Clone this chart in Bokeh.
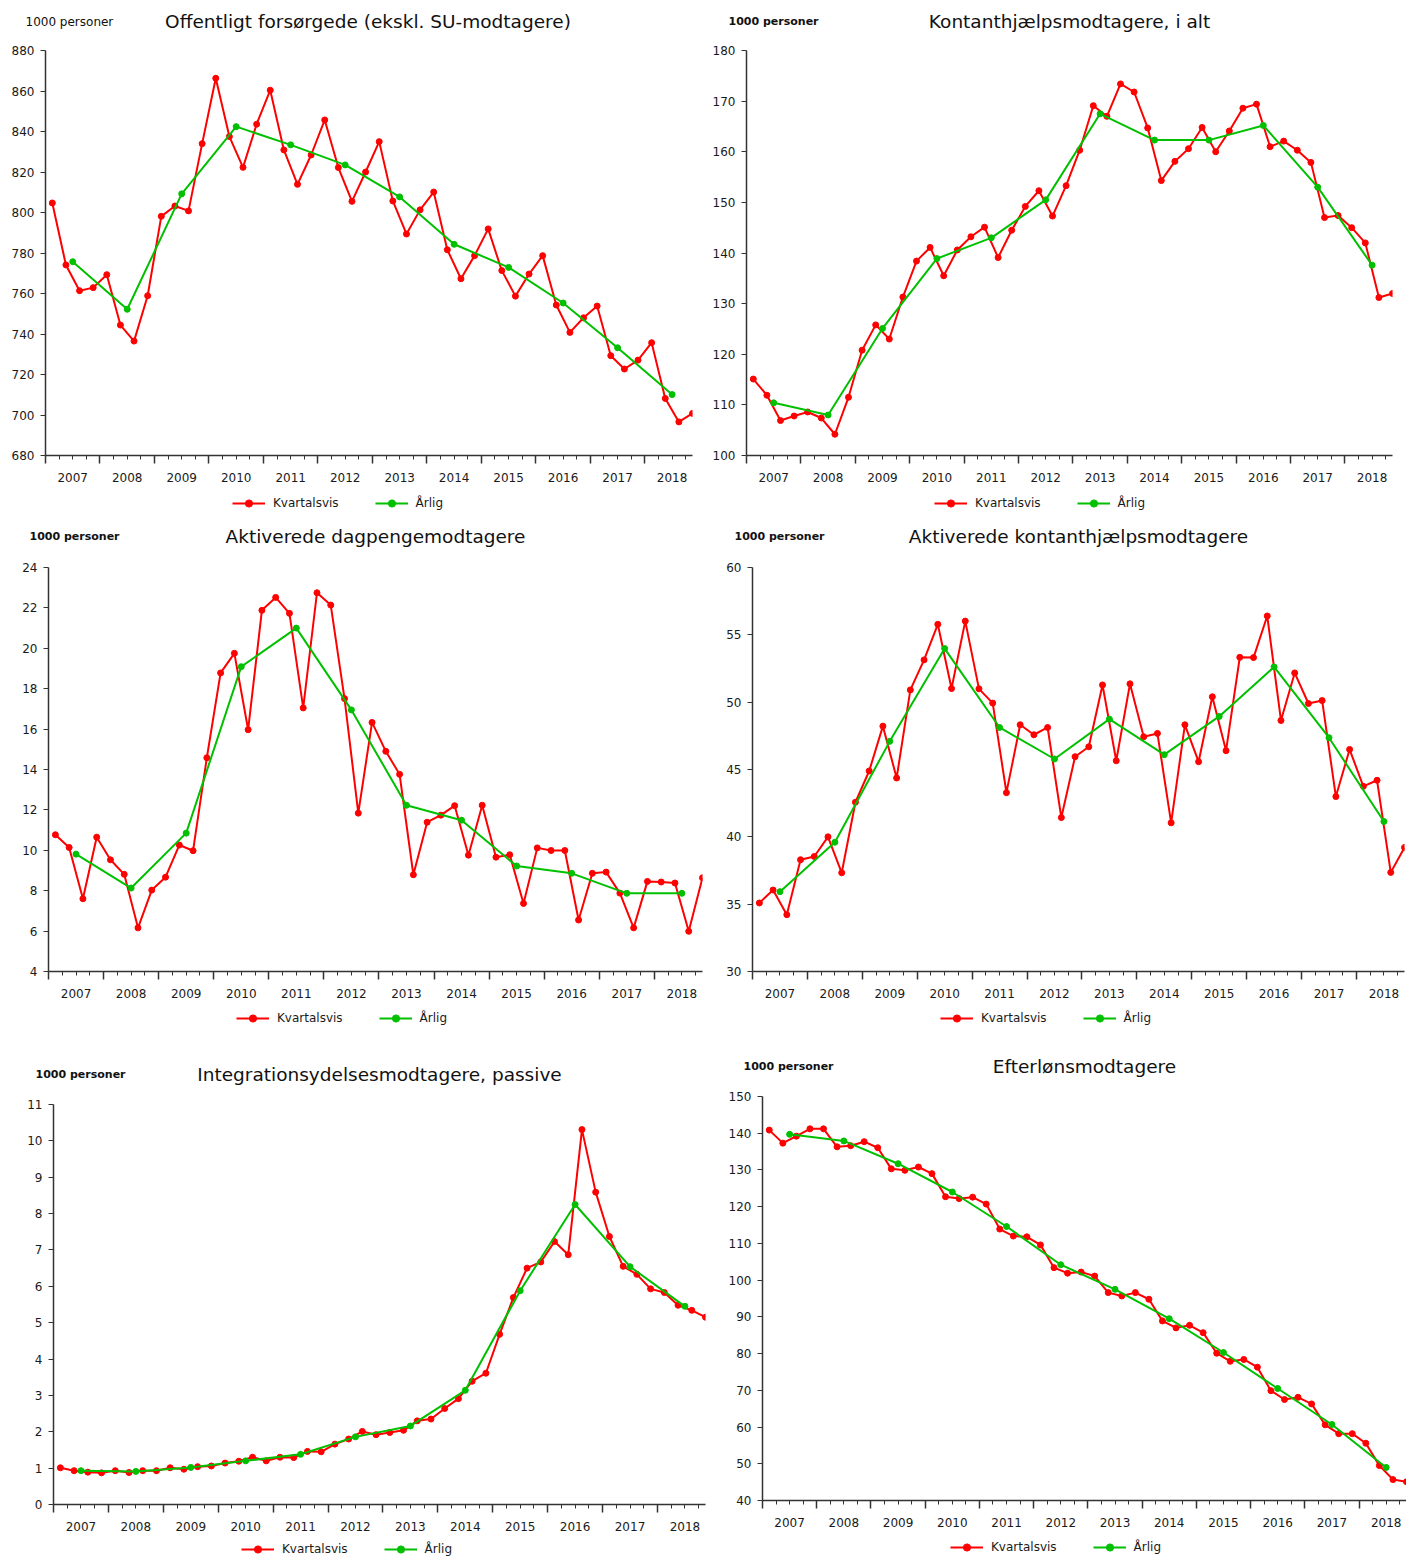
import numpy as np
from bokeh.plotting import figure
from bokeh.models import Range1d, LinearAxis, FixedTicker, Legend, LegendItem, Label
from bokeh.layouts import row, column
from bokeh.embed import file_html
from bokeh.resources import INLINE

# ---------------- data ----------------
years = list(range(2007, 2019))
year_labels = [str(y) for y in years]
series_names = ["Kvartalsvis", "Årlig"]

offentligt_q = [804.7, 774.1, 761.4, 762.9, 769.3, 744.4, 736.5, 758.9,
                798.1, 803.2, 800.8, 834.0, 866.3, 837.5, 822.3, 843.6,
                860.4, 830.9, 813.9, 828.4, 845.7, 822.2, 805.5, 820.0,
                835.0, 805.7, 789.4, 801.3, 810.1, 781.6, 767.3, 778.7,
                791.9, 771.3, 758.7, 769.6, 778.7, 754.3, 740.8, 748.0,
                753.8, 729.3, 722.7, 727.1, 735.7, 708.2, 696.6, 700.8]
offentligt_a = [775.7, 752.2, 809.2, 842.4, 833.4, 823.5, 807.7, 784.3, 772.9, 755.3, 733.2, 710.1]

kontant_q = [115.1, 111.9, 106.9, 107.8, 108.6, 107.4, 104.2, 111.5,
             120.8, 125.8, 123.0, 131.3, 138.4, 141.1, 135.5, 140.6,
             143.2, 145.1, 139.1, 144.5, 149.2, 152.3, 147.3, 153.3,
             160.3, 169.1, 167.0, 173.4, 171.8, 164.7, 154.3, 158.1,
             160.6, 164.8, 160.0, 164.1, 168.6, 169.4, 161.0, 162.1,
             160.3, 157.9, 147.0, 147.4, 145.0, 142.0, 131.2, 132.0]
kontant_a = [110.4, 108.0, 125.1, 138.9, 143.0, 150.5, 167.5, 162.3, 162.3, 165.2, 153.0, 137.6]

dagpenge_q = [10.77, 10.14, 7.60, 10.65, 9.53, 8.81, 6.16, 8.03,
              8.67, 10.26, 9.98, 14.58, 18.78, 19.75, 15.97, 21.88,
              22.52, 21.73, 17.05, 22.75, 22.14, 17.51, 11.84, 16.33,
              14.90, 13.76, 8.79, 11.39, 11.74, 12.21, 9.76, 12.23,
              9.66, 9.78, 7.37, 10.12, 9.99, 9.99, 6.55, 8.86,
              8.92, 7.88, 6.16, 8.46, 8.43, 8.38, 5.99, 8.64]
dagpenge_a = [9.81, 8.13, 10.85, 19.09, 21.00, 16.95, 12.23, 11.49, 9.22, 8.86, 7.87, 7.87]

aktkontant_q = [35.09, 36.05, 34.22, 38.30, 38.54, 40.00, 37.33, 42.57,
                44.89, 48.22, 44.37, 50.91, 53.14, 55.78, 51.01, 56.02,
                50.99, 49.93, 43.28, 48.32, 47.58, 48.12, 41.43, 45.95,
                46.69, 51.28, 45.65, 51.36, 47.43, 47.68, 41.04, 48.32,
                45.58, 50.40, 46.40, 53.33, 53.31, 56.40, 48.64, 52.17,
                49.90, 50.12, 42.99, 46.49, 43.75, 44.20, 37.36, 39.21]
aktkontant_a = [35.93, 39.60, 47.09, 53.98, 48.12, 45.78, 48.74, 46.10, 48.94, 52.62, 47.36, 41.14]

integ_q = [1.01, 0.93, 0.89, 0.87, 0.93, 0.88, 0.93, 0.93,
           1.01, 0.97, 1.04, 1.06, 1.14, 1.19, 1.30, 1.20,
           1.30, 1.29, 1.46, 1.45, 1.66, 1.80, 2.01, 1.92,
           1.98, 2.04, 2.30, 2.35, 2.64, 2.91, 3.39, 3.61,
           4.68, 5.69, 6.50, 6.67, 7.23, 6.87, 10.31, 8.59,
           7.37, 6.55, 6.33, 5.93, 5.83, 5.48, 5.34, 5.15]
integ_a = [0.93, 0.91, 1.02, 1.20, 1.38, 1.86, 2.16, 3.14, 5.88, 8.25, 6.54, 5.45]

efterlon_q = [140.85, 137.3, 139.2, 141.2, 141.2, 136.3, 136.6, 137.7,
              136.05, 130.3, 129.9, 130.8, 129.0, 122.7, 122.2, 122.6,
              120.7, 113.9, 112.0, 111.8, 109.6, 103.4, 101.9, 102.2,
              101.1, 96.6, 95.7, 96.6, 94.8, 88.9, 87.0, 87.7,
              85.7, 80.1, 77.9, 78.4, 76.3, 69.9, 67.5, 68.1,
              66.3, 60.6, 58.2, 58.2, 55.6, 49.5, 45.7, 45.1]
efterlon_a = [139.7, 137.9, 131.7, 124.0, 114.6, 104.2, 97.5, 89.5, 80.3, 70.5, 60.7, 49.0]

titles = ["Offentligt forsørgede (ekskl. SU-modtagere)",
          "Kontanthjælpsmodtagere, i alt",
          "Aktiverede dagpengemodtagere",
          "Aktiverede kontanthjælpsmodtagere",
          "Integrationsydelsesmodtagere, passive",
          "Efterlønsmodtagere"]
unit_label = "1000 personer"

y_ticks_1 = list(range(680, 881, 20))
y_ticks_2 = list(range(100, 181, 10))
y_ticks_3 = list(range(4, 25, 2))
y_ticks_4 = list(range(30, 61, 5))
y_ticks_5 = list(range(0, 12, 1))
y_ticks_6 = list(range(40, 151, 10))

# ---------------- geometry / style ----------------
n_years = len(years)
n_q = 4 * n_years
x_end = n_q - 0.5
quarter_x = np.arange(n_q) + 0.5
annual_x = np.arange(n_years) * 4 + 2.0
year_bounds = [4 * i for i in range(n_years)]
quarter_minor = [k for k in range(1, n_q) if k % 4 != 0]
year_centers = [4 * i + 2 for i in range(n_years)]

RED = "#ff0000"
GREEN = "#00c000"
AX = "#333333"
TXT = "#1a1a1a"
FONT = "DejaVu Sans"
TOP_PAD = 8
BOTTOM_PAD = 34


def strip_fig(w, h, x_range=None, y_range=None):
    return figure(width=w, height=h,
                  x_range=x_range if x_range is not None else Range1d(0, w),
                  y_range=y_range if y_range is not None else Range1d(0, h),
                  x_axis_type=None, y_axis_type=None, title=None, min_border=0,
                  frame_align=False,
                  toolbar_location=None, output_backend="svg", outline_line_color=None,
                  background_fill_color="white", border_fill_color="white")


def make_chart(title, unit_bold, q, a, yt, L, W, R, head_h, title_y, frame_h,
               leg_h, leg_yb, unit_dx):
    fw = L + W + R

    # header: unit label + title
    head = strip_fig(fw, head_h)
    head.add_layout(Label(x=L + W / 2, y=title_y, text=title, text_align="center",
                          text_baseline="middle", text_font=FONT,
                          text_font_size="18.5px", text_color="#111111"))
    head.add_layout(Label(x=L + unit_dx, y=title_y, text=unit_label, text_align="left",
                          text_baseline="middle", text_font=FONT,
                          text_font_size="11px" if unit_bold else "12px",
                          text_font_style="bold" if unit_bold else "normal",
                          text_color="#111111"))

    # main chart
    p = figure(frame_width=W, frame_height=frame_h, x_range=Range1d(0, x_end),
               y_range=Range1d(yt[0], yt[-1]),
               x_axis_type=None, y_axis_type=None, title=None,
               toolbar_location=None, output_backend="svg", frame_align=False,
               min_border_left=L, min_border_right=R,
               min_border_top=TOP_PAD, min_border_bottom=BOTTOM_PAD,
               outline_line_color=None,
               background_fill_color="white", border_fill_color="white")

    ya = LinearAxis(ticker=FixedTicker(ticks=yt))
    ya.axis_line_color = AX
    ya.axis_line_width = 1.5
    ya.major_tick_line_color = AX
    ya.major_tick_in = 0
    ya.major_tick_out = 5
    ya.minor_tick_line_color = None
    ya.major_label_standoff = 6
    ya.major_label_text_font = FONT
    ya.major_label_text_font_size = "12px"
    ya.major_label_text_color = TXT
    p.add_layout(ya, "left")

    xa = LinearAxis(ticker=FixedTicker(ticks=year_bounds, minor_ticks=quarter_minor))
    xa.axis_line_color = AX
    xa.axis_line_width = 1.5
    xa.major_tick_line_color = AX
    xa.major_tick_line_width = 1.5
    xa.major_tick_in = 0
    xa.major_tick_out = 8
    xa.minor_tick_line_color = AX
    xa.minor_tick_in = 0
    xa.minor_tick_out = 4
    xa.major_label_standoff = 0
    xa.major_label_text_font_size = "1px"
    xa.major_label_text_alpha = 0
    p.add_layout(xa, "below")

    xb = LinearAxis(ticker=FixedTicker(ticks=year_centers))
    xb.axis_line_color = None
    xb.major_tick_line_color = None
    xb.minor_tick_line_color = None
    xb.major_tick_in = 0
    xb.major_tick_out = 0
    xb.major_label_standoff = 9
    xb.major_label_text_font = FONT
    xb.major_label_text_font_size = "12px"
    xb.major_label_text_color = TXT
    xb.major_label_overrides = {c: lab for c, lab in zip(year_centers, year_labels)}
    p.add_layout(xb, "below")

    p.line(quarter_x, q, line_color=RED, line_width=2)
    p.scatter(quarter_x, q, size=6, fill_color=RED, line_color=RED)
    p.line(annual_x, a, line_color=GREEN, line_width=2)
    p.scatter(annual_x, a, size=6, fill_color=GREEN, line_color=GREEN)

    # legend strip below the chart (series drawn outside its view, only the key shows)
    leg = strip_fig(fw, leg_h, x_range=Range1d(-fw - 50, -50), y_range=Range1d(-leg_h - 50, -50))
    lr = leg.line(quarter_x, q, line_color=RED, line_width=2)
    sr = leg.scatter(quarter_x, q, size=6, fill_color=RED, line_color=RED)
    lg = leg.line(annual_x, a, line_color=GREEN, line_width=2)
    sg = leg.scatter(annual_x, a, size=6, fill_color=GREEN, line_color=GREEN)
    legend = Legend(items=[LegendItem(label=series_names[0], renderers=[lr, sr]),
                           LegendItem(label=series_names[1], renderers=[lg, sg])],
                    orientation="horizontal", location=(L + 188, leg_yb),
                    glyph_width=33, glyph_height=18, label_height=18,
                    label_standoff=8, spacing=36, padding=0, margin=0,
                    border_line_color=None, background_fill_alpha=0,
                    label_text_font=FONT, label_text_font_size="12px",
                    label_text_color=TXT)
    leg.add_layout(legend)

    return column(head, p, leg, spacing=0)


c1 = make_chart(titles[0], False, offentligt_q, offentligt_a, y_ticks_1, 36, 647, 17, 34, 21, 405, 31, 8, -19)
c2 = make_chart(titles[1], True, kontant_q, kontant_a, y_ticks_2, 37, 646, 15, 34, 21, 405, 31, 8, -18)
c3 = make_chart(titles[2], True, dagpenge_q, dagpenge_a, y_ticks_3, 40, 654, 6, 39, 23, 404, 27, 5, -19)
c4 = make_chart(titles[3], True, aktkontant_q, aktkontant_a, y_ticks_4, 44, 652, 2, 39, 23, 404, 27, 5, -18)
c5 = make_chart(titles[4], True, integ_q, integ_a, y_ticks_5, 45, 652, 3, 64, 22, 400, 22, 2, -18)
c6 = make_chart(titles[5], True, efterlon_q, efterlon_a, y_ticks_6, 54, 644, 0, 56, 22, 404, 26, 4, -19)

layout = column(row(c1, c2, spacing=0), row(c3, c4, spacing=0), row(c5, c6, spacing=0),
                spacing=0, margin=(8, 0, 0, 8))

open("out.html", "w").write(file_html(layout, INLINE))
